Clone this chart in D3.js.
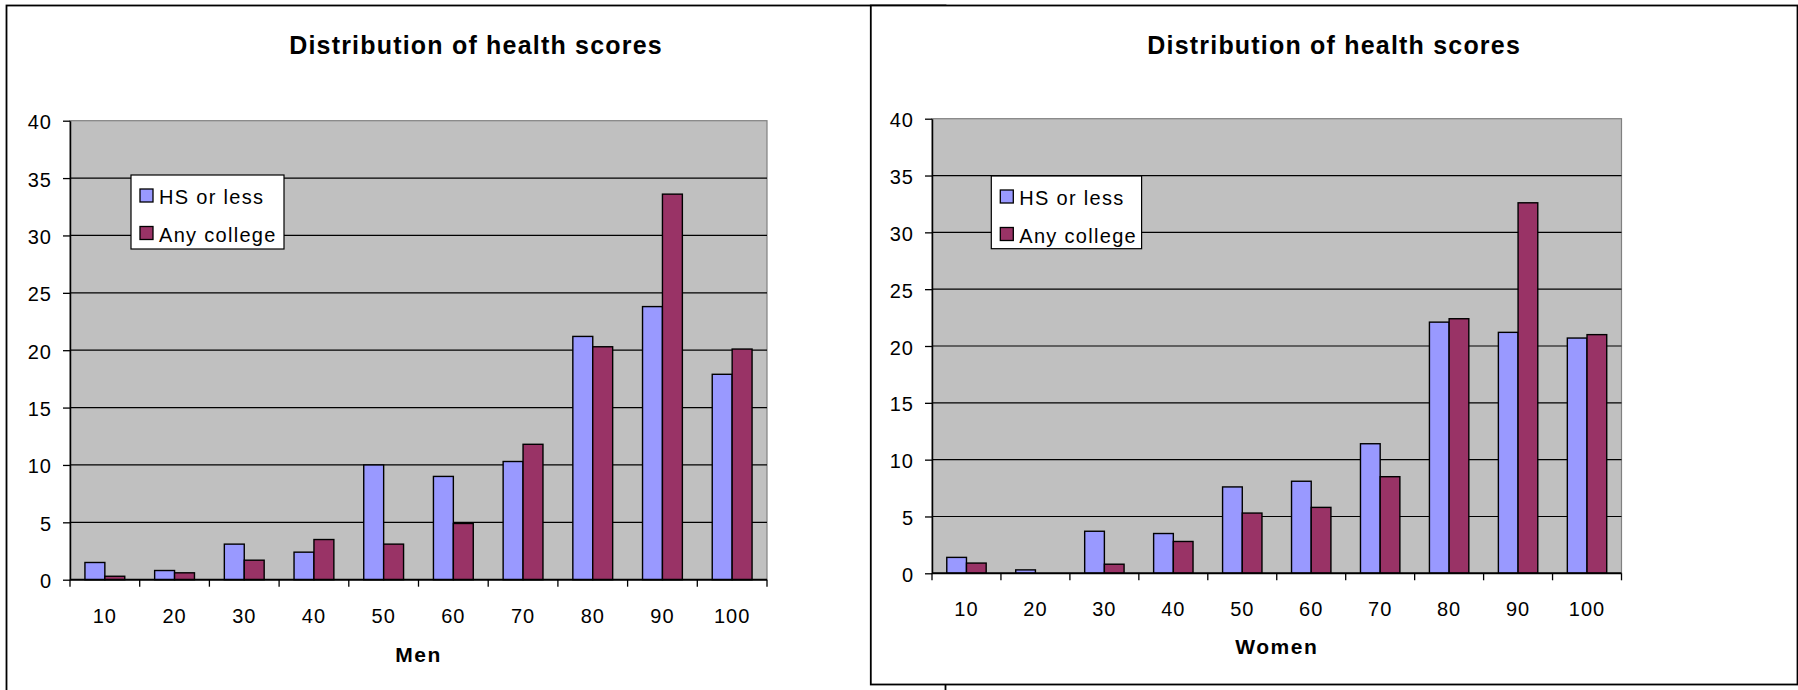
<!DOCTYPE html>
<html>
<head>
<meta charset="utf-8">
<script src="https://cdn.jsdelivr.net/npm/d3@7"></script>
<style>
  html, body { margin: 0; padding: 0; background: #fff; }
  svg { display: block; font-family: Arial, "Liberation Sans", sans-serif; }
</style>
</head>
<body>
<svg id="chart" width="1798" height="690"></svg>
<script>
// Health score bins (x categories)
const scores = ["10", "20", "30", "40", "50", "60", "70", "80", "90", "100"];
// Series names
const seriesNames = ["HS or less", "Any college"];
// Percent of respondents in each bin
const menHS      = [1.5, 0.8, 3.1, 2.4, 10.0, 9.0, 10.3, 21.2, 23.8, 17.9];
const menCollege = [0.3, 0.6, 1.7, 3.5, 3.1, 4.9, 11.8, 20.3, 33.6, 20.1];
const womenHS      = [1.4, 0.3, 3.7, 3.5, 7.6, 8.1, 11.4, 22.1, 21.2, 20.7];
const womenCollege = [0.9, 0.0, 0.8, 2.8, 5.3, 5.8, 8.5, 22.4, 32.6, 21.0];
// Value axis ticks
const yTicks = [0, 5, 10, 15, 20, 25, 30, 35, 40];
const chartTitle = "Distribution of health scores";

const colors = ["#9999FF", "#993366"];
const svg = d3.select("#chart");

function drawChart(g, cfg) {
  // Outer chart frame
  g.append("rect")
    .attr("x", cfg.frame.x).attr("y", cfg.frame.y)
    .attr("width", cfg.frame.w).attr("height", cfg.frame.h)
    .attr("fill", "#fff").attr("stroke", "#000").attr("stroke-width", 1.8);

  // Title
  g.append("text")
    .attr("x", cfg.frame.x + cfg.frame.w / 2).attr("y", 54)
    .attr("text-anchor", "middle")
    .attr("font-size", 25).attr("font-weight", "bold")
    .attr("letter-spacing", 1.2)
    .text(chartTitle);

  const p = cfg.plot;
  const x0 = d3.scaleBand().domain(scores).range([p.left, p.right]).paddingInner(0).paddingOuter(0);
  const x1 = d3.scaleBand().domain(seriesNames).range([0, x0.bandwidth()]).paddingInner(0).paddingOuter(0.75);
  const y = d3.scaleLinear().domain([0, 40]).range([p.bottom, p.top]);

  // Plot area
  g.append("rect")
    .attr("x", p.left).attr("y", p.top)
    .attr("width", p.right - p.left).attr("height", p.bottom - p.top)
    .attr("fill", "#C0C0C0").attr("stroke", "#808080").attr("stroke-width", 1.2);

  // Gridlines
  g.append("g").selectAll("line")
    .data(yTicks.filter(d => d > 0 && d < 40))
    .join("line")
    .attr("x1", p.left).attr("x2", p.right)
    .attr("y1", d => y(d)).attr("y2", d => y(d))
    .attr("stroke", "#000").attr("stroke-width", 1.2);

  // Bars
  const rows = scores.map((s, i) => ({ score: s, values: [cfg.series[0][i], cfg.series[1][i]] }));
  const groups = g.append("g").selectAll("g")
    .data(rows).join("g")
    .attr("transform", d => `translate(${x0(d.score)},0)`);
  groups.selectAll("rect")
    .data(d => d.values.map((v, k) => ({ name: seriesNames[k], value: v, k })))
    .join("rect")
    .filter(d => d.value > 0)
    .attr("x", d => x1(d.name))
    .attr("y", d => y(d.value))
    .attr("width", x1.bandwidth())
    .attr("height", d => y(0) - y(d.value))
    .attr("fill", d => colors[d.k])
    .attr("stroke", "#000").attr("stroke-width", 1.4);

  // Value axis
  const yAxis = g.append("g")
    .attr("transform", `translate(${p.left},0)`)
    .call(d3.axisLeft(y).tickValues(yTicks).tickSize(7).tickPadding(11).tickSizeOuter(0));
  yAxis.select(".domain").attr("stroke", "#000").attr("stroke-width", 1.5);
  yAxis.selectAll(".tick line").attr("stroke", "#000").attr("stroke-width", 1.3);
  yAxis.selectAll(".tick text")
    .attr("font-size", 20).attr("letter-spacing", 1).attr("fill", "#000")
    .attr("font-family", "Arial, 'Liberation Sans', sans-serif")
    .attr("dy", "0.4em");

  // Category axis: labels centered in each band, ticks on band edges
  const xAxis = g.append("g")
    .attr("transform", `translate(0,${p.bottom})`)
    .call(d3.axisBottom(x0).tickSize(0).tickPadding(cfg.labelPad).tickSizeOuter(0));
  xAxis.select(".domain").remove();
  xAxis.selectAll(".tick text")
    .attr("font-size", 20).attr("letter-spacing", 1).attr("fill", "#000")
    .attr("font-family", "Arial, 'Liberation Sans', sans-serif")
    .attr("dy", 0);
  const edges = scores.map(s => x0(s)).concat([x0(scores[scores.length - 1]) + x0.bandwidth()]);
  g.append("g").selectAll("line")
    .data(edges).join("line")
    .attr("x1", d => d).attr("x2", d => d)
    .attr("y1", p.bottom).attr("y2", p.bottom + 7)
    .attr("stroke", "#000").attr("stroke-width", 1.3);
  g.append("line")
    .attr("x1", p.left).attr("x2", p.right)
    .attr("y1", p.bottom).attr("y2", p.bottom)
    .attr("stroke", "#000").attr("stroke-width", 2);

  // Axis title
  g.append("text")
    .attr("x", (p.left + p.right) / 2).attr("y", cfg.axisTitleY)
    .attr("text-anchor", "middle")
    .attr("font-size", 21).attr("font-weight", "bold").attr("letter-spacing", 1.5)
    .text(cfg.axisTitle);

  // Legend
  const L = cfg.legend;
  const lg = g.append("g").attr("transform", `translate(${L.x},${L.y})`);
  lg.append("rect")
    .attr("width", L.w).attr("height", L.h)
    .attr("fill", "#fff").attr("stroke", "#000").attr("stroke-width", 1.2);
  seriesNames.forEach((name, k) => {
    const rowY = 14 + k * 37.5;
    lg.append("rect")
      .attr("x", 9).attr("y", rowY)
      .attr("width", 13).attr("height", 13)
      .attr("fill", colors[k]).attr("stroke", "#000").attr("stroke-width", 1.3);
    lg.append("text")
      .attr("x", 28).attr("y", rowY + 15)
      .attr("font-size", 20).attr("letter-spacing", 1.3)
      .text(name);
  });
}

// Men (drawn first, partially covered by the second sheet)
drawChart(svg.append("g"), {
  frame: { x: 6.5, y: 5.5, w: 939, h: 700 },
  plot: { left: 70, right: 767, top: 120.7, bottom: 579.7 },
  series: [menHS, menCollege],
  labelPad: 43,
  axisTitle: "Men", axisTitleY: 662,
  legend: { x: 131, y: 175, w: 153, h: 74 }
});

// Women
drawChart(svg.append("g"), {
  frame: { x: 870.8, y: 5.5, w: 926.7, h: 679 },
  plot: { left: 932, right: 1621.5, top: 118.7, bottom: 573.3 },
  series: [womenHS, womenCollege],
  labelPad: 42.4,
  axisTitle: "Women", axisTitleY: 654.3,
  legend: { x: 991.3, y: 176, w: 150.3, h: 72.7 }
});
</script>
</body>
</html>
